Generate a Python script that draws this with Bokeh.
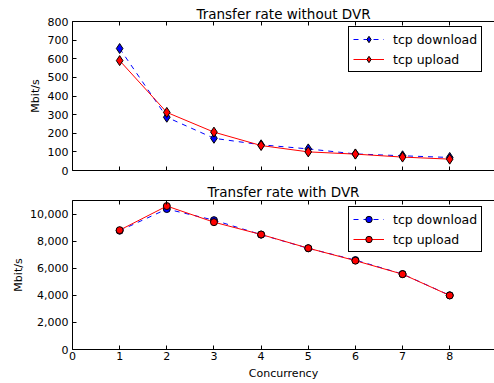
from bokeh.plotting import figure
from bokeh.models import (Range1d, FixedTicker, LinearAxis, NumeralTickFormatter,
                          Legend, LegendItem, Title)
from bokeh.layouts import column
from bokeh.embed import file_html
from bokeh.resources import INLINE

# ---- data ----
concurrency = [1, 2, 3, 4, 5, 6, 7, 8]
no_dvr_download = [655, 286, 173, 138, 116, 89, 79, 70]
no_dvr_upload = [590, 312, 206, 134, 100, 88, 72, 61]
dvr_download = [8770, 10370, 9550, 8480, 7470, 6600, 5570, 4000]
dvr_upload = [8810, 10590, 9400, 8490, 7480, 6560, 5560, 3990]
x_ticks = [0, 1, 2, 3, 4, 5, 6, 7, 8, 9]
top_y_ticks = [0, 100, 200, 300, 400, 500, 600, 700, 800]
bottom_y_ticks = [0, 2000, 4000, 6000, 8000, 10000]
series_labels = ["tcp download", "tcp upload"]
titles = ["Transfer rate without DVR", "Transfer rate with DVR"]
y_label = "Mbit/s"
x_label = "Concurrency"

FONT = "DejaVu Sans"
TICK_SIZE = "11px"


def style_axis(ax, show_labels=True):
    ax.major_tick_in = 4
    ax.major_tick_out = 0
    ax.minor_tick_line_color = None
    ax.axis_line_color = "black"
    ax.axis_line_width = 1
    ax.major_tick_line_color = "black"
    ax.major_label_text_font = FONT
    ax.major_label_text_color = "black"
    if show_labels:
        ax.major_label_text_font_size = TICK_SIZE
        ax.major_label_standoff = 4
    else:
        ax.major_label_text_font_size = "1px"
        ax.major_label_standoff = 0
        ax.major_label_overrides = {t: "" for t in x_ticks}


def side_title(text, standoff):
    return Title(text=text, align="center", text_font=FONT,
                 text_font_size="11px", text_font_style="normal",
                 text_color="black", standoff=standoff)


def make_fig(height, title, ymax, yticks, min_top, min_bottom, title_standoff,
             ylabel_standoff):
    p = figure(width=494, height=height, x_range=Range1d(0, 8.95),
               y_range=Range1d(0, ymax), output_backend="svg",
               toolbar_location=None, min_border_left=72, min_border_right=0,
               min_border_top=min_top, min_border_bottom=min_bottom,
               outline_line_color=None, background_fill_color="white",
               border_fill_color="white")
    p.title.text = title
    p.title.align = "center"
    p.title.text_font = FONT
    p.title.text_font_style = "normal"
    p.title.text_font_size = "13.5px"
    p.title.text_color = "black"
    p.title.standoff = title_standoff
    p.xgrid.visible = False
    p.ygrid.visible = False
    p.xaxis.ticker = FixedTicker(ticks=x_ticks)
    p.yaxis.ticker = FixedTicker(ticks=yticks)
    top_ax = LinearAxis(ticker=FixedTicker(ticks=x_ticks))
    p.add_layout(top_ax, "above")
    style_axis(top_ax, show_labels=False)
    for ax in p.yaxis:
        style_axis(ax)
    p.add_layout(side_title(y_label, ylabel_standoff), "left")
    return p


def add_series(p, down, up, marker, size, legend_loc):
    dl = p.line(concurrency, down, line_color="#0000ff", line_width=1,
                line_dash="5 5")
    dp = p.scatter(concurrency, down, marker=marker, size=size,
                   fill_color="#0000ff", line_color="black", line_width=1)
    ul = p.line(concurrency, up, line_color="#ff0000", line_width=1)
    up_ = p.scatter(concurrency, up, marker=marker, size=size,
                    fill_color="#ff0000", line_color="black", line_width=1)
    legend = Legend(items=[LegendItem(label=series_labels[0], renderers=[dl, dp]),
                           LegendItem(label=series_labels[1], renderers=[ul, up_])],
                    location=legend_loc, margin=0, padding=4, spacing=4,
                    glyph_width=31, glyph_height=16, label_height=16,
                    label_standoff=9, label_text_font=FONT,
                    label_text_font_size="12.5px", label_text_color="black",
                    border_line_color="black", border_line_width=1,
                    border_line_alpha=1, background_fill_color="white",
                    background_fill_alpha=1)
    p.add_layout(legend)


# ---- top: without DVR ----
p1 = make_fig(178, titles[0], 800, top_y_ticks, 21, 8, 0, 5)
for ax in p1.below:
    style_axis(ax, show_labels=False)
add_series(p1, no_dvr_download, no_dvr_upload, "diamond", 10, (276, 98))

# ---- bottom: with DVR ----
p2 = make_fig(205, titles[1], 11000, bottom_y_ticks, 22, 34, 1, 5)
p2.yaxis.formatter = NumeralTickFormatter(format="0,0")
for ax in p2.below:
    style_axis(ax)
    ax.major_label_standoff = 2
p2.add_layout(side_title(x_label, 3.5), "below")
add_series(p2, dvr_download, dvr_upload, "circle", 7, (276, 97))

layout = column(p1, p2, spacing=0)
open("out.html", "w").write(file_html(layout, INLINE))
